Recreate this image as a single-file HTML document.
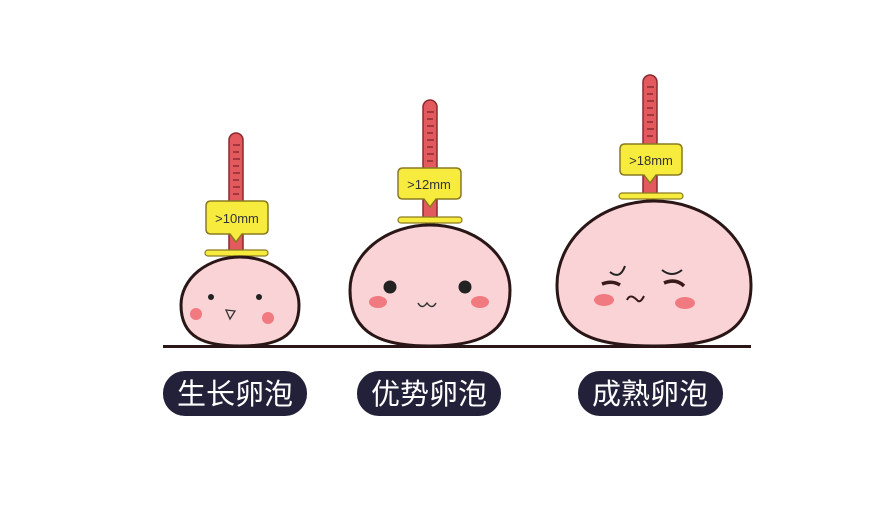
<!DOCTYPE html>
<html><head><meta charset="utf-8"><style>
body{margin:0;background:#fff;}
svg{display:block}
</style></head><body>
<svg width="875" height="507" viewBox="0 0 875 507" xmlns="http://www.w3.org/2000/svg">
<rect width="875" height="507" fill="#fff"/>
<!-- small -->
<g>
<rect x="229" y="133" width="14" height="125" rx="7" fill="#e25a5e" stroke="#8a2a2e" stroke-width="1.5"/>
<g stroke="#7a2024" stroke-width="1.2">
<line x1="233" y1="145" x2="240" y2="145"/><line x1="233" y1="152" x2="239" y2="152"/><line x1="233" y1="159" x2="240" y2="159"/><line x1="233" y1="166" x2="239" y2="166"/><line x1="233" y1="173" x2="240" y2="173"/><line x1="233" y1="180" x2="239" y2="180"/><line x1="233" y1="187" x2="240" y2="187"/><line x1="233" y1="194" x2="239" y2="194"/>
</g>
<path d="M211 201 H263 Q268 201 268 206 V229 Q268 234 263 234 H242 L236 242 L230 234 H211 Q206 234 206 229 V206 Q206 201 211 201Z" fill="#f7ec3e" stroke="#8a7a20" stroke-width="1.5"/>
<text x="237" y="223" font-family="Liberation Sans, sans-serif" font-size="13" text-anchor="middle" fill="#333">&gt;10mm</text>
<rect x="205" y="250" width="63" height="6" rx="3" fill="#f7ec3e" stroke="#8a7a20" stroke-width="1.2"/>
<path d="M181 305 A59 48 0 0 1 299 305 C299 338 275 346 240 346 C205 346 181 338 181 305Z" fill="#fad3d6" stroke="#2a1616" stroke-width="3"/>
<circle cx="211" cy="297" r="3" fill="#222"/><circle cx="259" cy="297" r="3" fill="#222"/>
<circle cx="196" cy="314" r="6" fill="#f07a80"/><circle cx="268" cy="318" r="6" fill="#f07a80"/>
<path d="M226 310 L235 311 L230 319Z" fill="none" stroke="#333" stroke-width="1.3"/>
</g>
<!-- medium -->
<g>
<rect x="423" y="100" width="14" height="125" rx="7" fill="#e25a5e" stroke="#8a2a2e" stroke-width="1.5"/>
<g stroke="#7a2024" stroke-width="1.2">
<line x1="427" y1="112" x2="434" y2="112"/><line x1="427" y1="119" x2="433" y2="119"/><line x1="427" y1="126" x2="434" y2="126"/><line x1="427" y1="133" x2="433" y2="133"/><line x1="427" y1="140" x2="434" y2="140"/><line x1="427" y1="147" x2="433" y2="147"/><line x1="427" y1="154" x2="434" y2="154"/><line x1="427" y1="161" x2="433" y2="161"/>
</g>
<path d="M403 168 H456 Q461 168 461 173 V194 Q461 199 456 199 H436 L430 207 L424 199 H403 Q398 199 398 194 V173 Q398 168 403 168Z" fill="#f7ec3e" stroke="#8a7a20" stroke-width="1.5"/>
<text x="429" y="189" font-family="Liberation Sans, sans-serif" font-size="13" text-anchor="middle" fill="#333">&gt;12mm</text>
<rect x="398" y="217" width="64" height="6" rx="3" fill="#f7ec3e" stroke="#8a7a20" stroke-width="1.2"/>
<path d="M350 290 A80 65 0 0 1 510 290 C510 336 475 346 430 346 C385 346 350 336 350 290Z" fill="#fad3d6" stroke="#2a1616" stroke-width="3"/>
<circle cx="390" cy="287" r="6.5" fill="#222"/><circle cx="465" cy="287" r="6.5" fill="#222"/>
<ellipse cx="378" cy="302" rx="9" ry="6" fill="#f07a80"/><ellipse cx="480" cy="302" rx="9" ry="6" fill="#f07a80"/>
<path d="M418 303 Q422 310 427 303 Q432 310 436 303" fill="none" stroke="#333" stroke-width="1.5"/>
</g>
<!-- large -->
<g>
<rect x="643" y="75" width="14" height="125" rx="7" fill="#e25a5e" stroke="#8a2a2e" stroke-width="1.5"/>
<g stroke="#7a2024" stroke-width="1.2">
<line x1="647" y1="87" x2="654" y2="87"/><line x1="647" y1="94" x2="653" y2="94"/><line x1="647" y1="101" x2="654" y2="101"/><line x1="647" y1="108" x2="653" y2="108"/><line x1="647" y1="115" x2="654" y2="115"/><line x1="647" y1="122" x2="653" y2="122"/><line x1="647" y1="129" x2="654" y2="129"/><line x1="647" y1="136" x2="653" y2="136"/>
</g>
<path d="M625 144 H677 Q682 144 682 149 V170 Q682 175 677 175 H656 L650 183 L644 175 H625 Q620 175 620 170 V149 Q620 144 625 144Z" fill="#f7ec3e" stroke="#8a7a20" stroke-width="1.5"/>
<text x="651" y="165" font-family="Liberation Sans, sans-serif" font-size="13" text-anchor="middle" fill="#333">&gt;18mm</text>
<rect x="619" y="193" width="64" height="6" rx="3" fill="#f7ec3e" stroke="#8a7a20" stroke-width="1.2"/>
<path d="M557 285 A97 84 0 0 1 751 285 C751 336 710 346 654 346 C598 346 557 336 557 285Z" fill="#fad3d6" stroke="#2a1616" stroke-width="3"/>
<path d="M610 272 Q620 280 625 266" fill="none" stroke="#222" stroke-width="2"/>
<path d="M662 270 Q672 278 682 270" fill="none" stroke="#222" stroke-width="2"/>
<path d="M602 284 Q612 280 620 285" fill="none" stroke="#3a1a1a" stroke-width="3.5"/>
<path d="M664 283 Q676 278 684 286" fill="none" stroke="#3a1a1a" stroke-width="3.5"/>
<path d="M627 300 Q630 293 637 300 Q640 304 644 296" fill="none" stroke="#3a1a1a" stroke-width="2"/>
<ellipse cx="604" cy="300" rx="10" ry="6" fill="#f07a80"/><ellipse cx="685" cy="303" rx="10" ry="6" fill="#f07a80"/>
</g>
<rect x="163" y="345" width="588" height="3" fill="#2a1616"/>
<g font-family="Liberation Sans, 'Noto Sans CJK SC', sans-serif" font-size="29" fill="#fff" text-anchor="middle">
<rect x="163" y="371" width="144" height="45" rx="22" fill="#23213a"/>
<text x="235" y="404">生长卵泡</text>
<rect x="357" y="371" width="144" height="45" rx="22" fill="#23213a"/>
<text x="429" y="404">优势卵泡</text>
<rect x="578" y="371" width="145" height="45" rx="22" fill="#23213a"/>
<text x="650" y="404">成熟卵泡</text>
</g>
</svg>
</body></html>
